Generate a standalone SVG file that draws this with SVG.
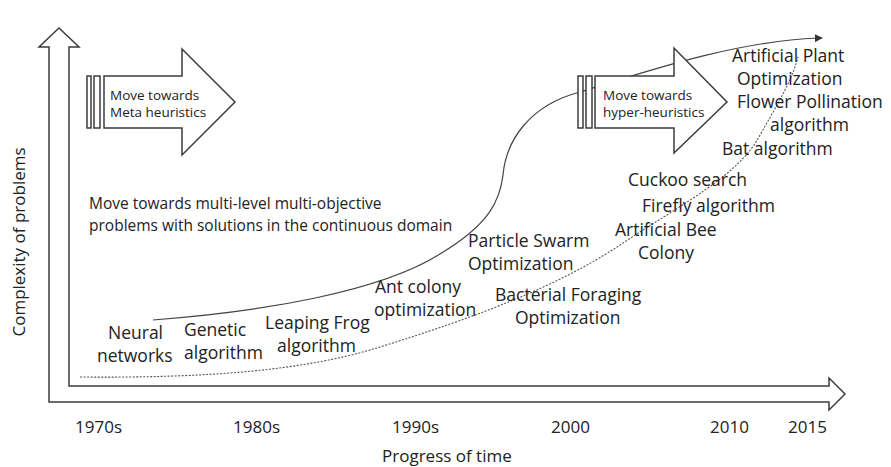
<svg xmlns="http://www.w3.org/2000/svg" width="891" height="467" viewBox="0 0 891 467">
<style>
.t{font-family:"Open Sans","Liberation Sans",sans-serif;fill:#222}
.lab{font-size:17.5px}
.yr{font-size:17px}
.small{font-size:13.5px}
.mid{font-size:15.5px}
.blk{fill:#fff;stroke:#3c3c3c;stroke-width:1.5;stroke-linejoin:miter}
.curve{fill:none;stroke:#444;stroke-width:1.2}
.dot{fill:none;stroke:#555;stroke-width:1.1;stroke-dasharray:2 1.5}
</style>
<defs>
<marker id="ah" viewBox="0 0 10 10" refX="9" refY="5" markerWidth="8" markerHeight="8" markerUnits="userSpaceOnUse" orient="auto">
<path d="M0,0 L10,5 L0,10 Z" fill="#333"/>
</marker>
</defs>
<g id="axes">
<polygon class="blk" points="49,47 49,402 829,402 829,410 845,394 829,378 829,386 69,386 69,47 79,47 59,28 39,47"/>
</g>
<g id="connectors">
<path class="curve" marker-end="url(#ah)" d="M153,320 C260,312 380,292 440,254 C490,224 500,200 503,175 C506,140 530,105 580,92 C650,70 740,40 822,38"/>
<path class="dot" d="M80,377 C200,378 300,372 380,347 C480,316 560,285 620,245 C680,205 740,175 760,135 C780,100 792,80 798,57"/>
</g>
<g id="meta-arrow">
<rect class="blk" x="87" y="76" width="4" height="52"/>
<rect class="blk" x="94" y="76" width="6" height="52"/>
<polygon class="blk" points="104,76 182,76 182,49 235,102 182,155 182,128 104,128"/>
<text class="t small" x="110" y="100">Move towards</text>
<text class="t small" x="110" y="117">Meta heuristics</text>
</g>
<g id="hyper-arrow">
<rect class="blk" x="578" y="76" width="5" height="52"/>
<rect class="blk" x="586" y="76" width="6" height="52"/>
<polygon class="blk" points="595,76 674,76 674,48 727,102 674,153 674,128 595,128"/>
<text class="t small" x="603" y="100">Move towards</text>
<text class="t small" x="603" y="117">hyper-heuristics</text>
</g>
<g id="ylabel"><text class="t yr" text-anchor="middle" transform="translate(25,242) rotate(-90)">Complexity of problems</text></g>
<g id="xlabel"><text class="t yr" x="382" y="462">Progress of time</text></g>
<g id="years">
<text class="t yr" x="75" y="433">1970s</text>
<text class="t yr" x="233" y="433">1980s</text>
<text class="t yr" x="392" y="433">1990s</text>
<text class="t yr" x="551" y="433">2000</text>
<text class="t yr" x="710" y="433">2010</text>
<text class="t yr" x="788" y="433">2015</text>
</g>
<g id="multi-level">
<text class="t mid" x="89" y="209">Move towards multi-level multi-objective</text>
<text class="t mid" x="89" y="231">problems with solutions in the continuous domain</text>
</g>
<g id="neural"><text class="t lab" x="108" y="339">Neural</text><text class="t lab" x="97" y="362">networks</text></g>
<g id="genetic"><text class="t lab" x="184" y="336">Genetic</text><text class="t lab" x="184" y="359">algorithm</text></g>
<g id="frog"><text class="t lab" x="265" y="329">Leaping Frog</text><text class="t lab" x="277" y="352">algorithm</text></g>
<g id="ant"><text class="t lab" x="375" y="293">Ant colony</text><text class="t lab" x="374" y="316">optimization</text></g>
<g id="pso"><text class="t lab" x="468" y="247">Particle Swarm</text><text class="t lab" x="468" y="270">Optimization</text></g>
<g id="bfo"><text class="t lab" x="495" y="301">Bacterial Foraging</text><text class="t lab" x="515" y="324">Optimization</text></g>
<g id="cuckoo"><text class="t lab" x="628" y="186">Cuckoo search</text></g>
<g id="firefly"><text class="t lab" x="642" y="212">Firefly algorithm</text></g>
<g id="abc"><text class="t lab" x="615" y="236">Artificial Bee</text><text class="t lab" x="638" y="259">Colony</text></g>
<g id="apo"><text class="t lab" x="732" y="62">Artificial Plant</text><text class="t lab" x="737" y="85">Optimization</text></g>
<g id="fpa"><text class="t lab" x="737" y="108">Flower Pollination</text><text class="t lab" x="770" y="131">algorithm</text></g>
<g id="bat"><text class="t lab" x="722" y="155">Bat algorithm</text></g>
</svg>
